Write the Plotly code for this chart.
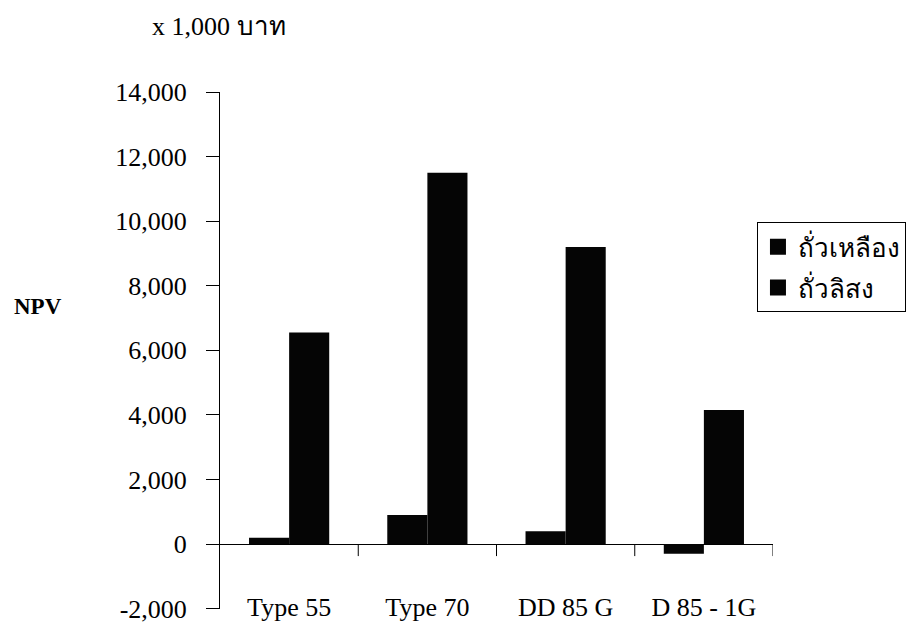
import plotly.graph_objects as go

# NPV by machine type (x 1,000 baht)
categories = ["Type 55", "Type 70", "DD 85 G", "D 85 - 1G"]
soybean = [200, 900, 400, -300]        # ถั่วเหลือง
peanut = [6550, 11500, 9200, 4150]     # ถั่วลิสง
series_names = ["ถั่วเหลือง", "ถั่วลิสง"]

y_tickvals = [-2000, 0, 2000, 4000, 6000, 8000, 10000, 12000, 14000]
y_ticktext = ["-2,000", "0", "2,000", "4,000", "6,000", "8,000", "10,000", "12,000", "14,000"]

# category boundaries, marked by short ticks hanging from the zero line
separators = [0.5, 1.5, 2.5, 3.5]

FONT = "Liberation Serif, Times New Roman, Noto Serif, serif"
BAR_COLOR = "#050505"

fig = go.Figure()
for name, vals in zip(series_names, [soybean, peanut]):
    fig.add_trace(go.Bar(
        x=categories, y=vals, name=name, showlegend=False,
        marker=dict(color=BAR_COLOR, line=dict(width=0)),
    ))
# legend keys as large square markers
for name in series_names:
    fig.add_trace(go.Scatter(
        x=[None], y=[None], mode="markers", name=name, legendgroup=name,
        marker=dict(symbol="square", size=16, color=BAR_COLOR),
    ))

shapes = [
    dict(type="line", xref="x", yref="y", x0=s, x1=s,
         ysizemode="pixel", yanchor=0, y0=0, y1=-12,
         line=dict(color="black", width=1))
    for s in separators
]

fig.update_layout(
    width=915, height=631,
    margin=dict(l=220, r=142, t=92, b=22, autoexpand=False),
    paper_bgcolor="white", plot_bgcolor="white",
    font=dict(family=FONT, size=26, color="black"),
    barmode="group", bargap=0.42, bargroupgap=0,
    showlegend=True,
    legend=dict(
        x=0.971, y=0.748, xanchor="left", yanchor="top",
        bordercolor="black", borderwidth=1, bgcolor="white",
        font=dict(family=FONT, size=26),
        traceorder="grouped", tracegroupgap=4,
    ),
    xaxis=dict(
        type="category", range=[-0.5, 3.5], automargin=False,
        showline=False, showgrid=False, zeroline=False,
        ticks="", ticklabelstandoff=-20,
        tickfont=dict(family=FONT, size=26),
    ),
    yaxis=dict(
        range=[-2010, 14000], tickvals=y_tickvals, ticktext=y_ticktext,
        automargin=False,
        showline=True, linecolor="black", linewidth=1,
        ticks="outside", ticklen=13, tickcolor="black",
        showgrid=False,
        zeroline=True, zerolinecolor="black", zerolinewidth=1,
        ticklabelstandoff=14,
        tickfont=dict(family=FONT, size=26),
    ),
    shapes=shapes,
    annotations=[
        dict(text="x 1,000 บาท", xref="paper", yref="paper",
             x=-0.127, y=1.126, xanchor="left", yanchor="middle",
             showarrow=False, font=dict(family=FONT, size=26)),
        dict(text="<b>NPV</b>", xref="paper", yref="paper",
             x=-0.329, y=0.586, xanchor="center", yanchor="middle",
             showarrow=False, font=dict(family=FONT, size=23)),
    ],
)

fig.write_html("out.html")
